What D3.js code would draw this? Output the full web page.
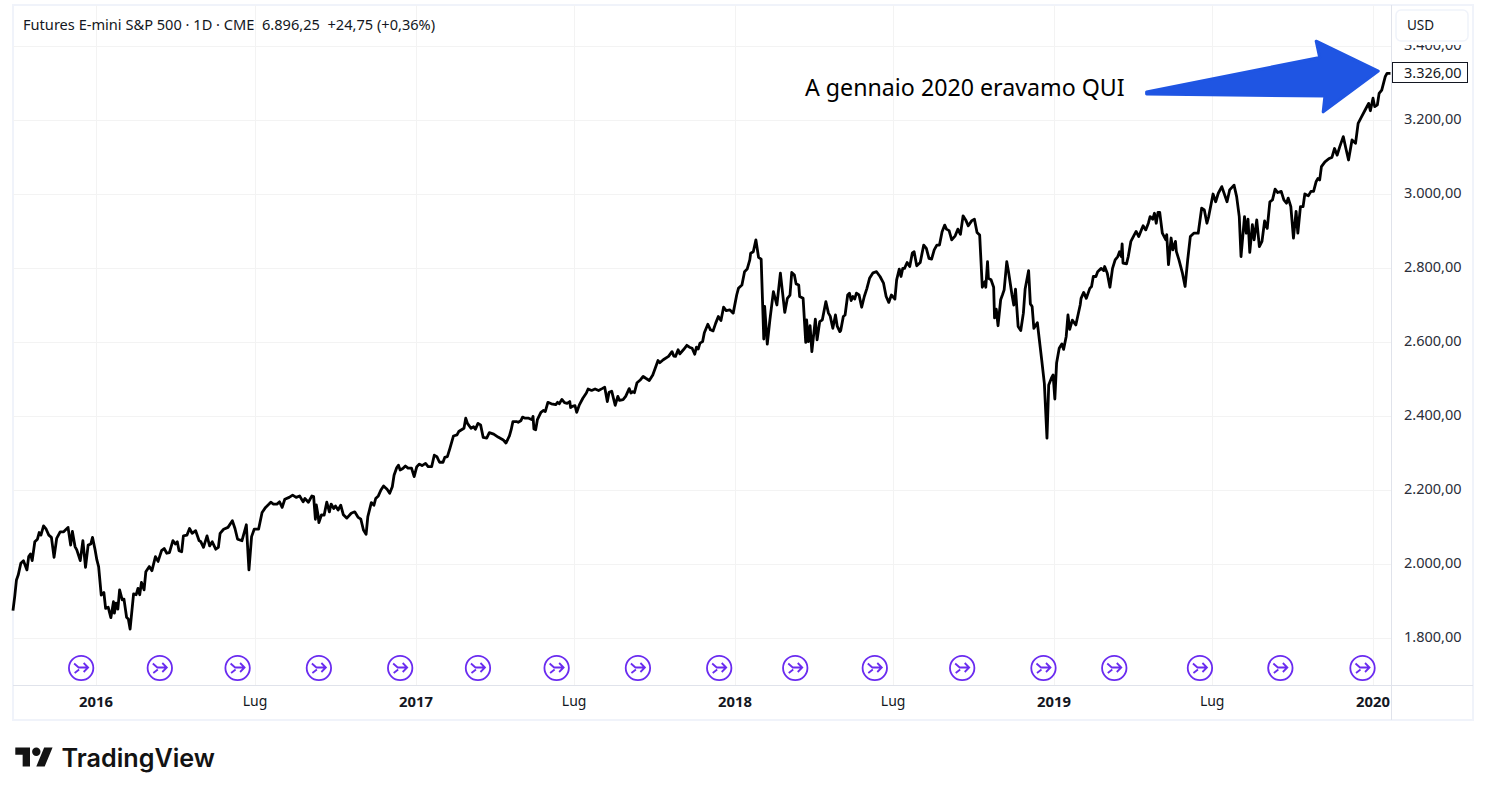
<!DOCTYPE html>
<html lang="it">
<head>
<meta charset="utf-8">
<title>Futures E-mini S&amp;P 500</title>
<script src="https://cdn.jsdelivr.net/npm/d3@7/dist/d3.min.js"></script>
<style>
    html, body { margin: 0; padding: 0; background: #fff; }
    svg { display: block; font-family: "Noto Sans", sans-serif; }
</style>
</head>
<body>
<script>
// days counted from 1 Jan 2016
var closeDays = [-95,-93,-91,-89,-86,-83,-79,-77,-75,-73,-70,-67,-65,-63,-60,-57,-54,-51,-48,-45,-41,-37,-32,-29,-27,-24,-22,-18,-15,-12,-9,-6,-4,-1,1,3,6,9,11,14,17,20,21,23,25,27,30,32,35,37,39,43,46,48,50,52,55,57,61,64,68,71,75,78,81,84,88,91,93,95,98,100,104,107,110,114,118,120,123,127,130,133,137,140,142,146,151,156,159,162,167,172,175,178,181,186,190,194,198,
    200,203,207,210,213,216,221,225,229,233,237,239,243,247,249,251,252,254,255,258,261,264,267,269,272,274,277,280,283,287,292,296,300,303,306,309,311,315,318,320,323,326,329,333,336,339,341,344,346,348,351,354,357,361,364,367,370,373,377,380,384,387,390,393,397,399,402,405,409,413,415,421,423,425,429,432,434,437,440,443,447,450,
    455,460,466,469,473,475,477,481,483,486,488,491,495,499,500,501,503,505,509,512,514,517,521,526,528,530,533,536,539,542,543,545,548,550,553,557,561,563,567,571,575,579,582,585,587,590,594,597,599,603,606,610,612,614,616,619,623,626,629,633,637,643,645,649,655,659,661,663,666,668,672,676,679,682,685,687,689,691,694,696,700,703,706,709,712,715,718,721,725,729,733,735,739,742,745,748,
    749,752,755,758,761,764,765,768,771,775,779,783,788,791,794,796,799,801,804,805,809,812,813,815,817,819,823,825,828,831,835,838,840,843,846,848,851,852,855,857,860,862,864,866,868,870,873,876,879,882,885,889,893,897,901,904,907,910,914,916,919,921,923,925,928,931,934,936,939,943,947,950,953,956,959,962,965,968,971,973,976,979,983,986,989,992,995,998,1002,1005,1008,1011,1014,1017,1018,1020,1021,1024,1027,1028,1030,1032,1035,1037,1039,1042,1044,1048,1050,1052,1055,1058,1061,1063,1067,1069,1071,1073,1077,1082,1085,1088,1090,1093,1095,1097,1099,1102,1105,1107,1110,1112,1114,
    1117,1121,1126,1127,1130,1133,1137,1139,1141,1144,1146,1150,1153,1154,1157,1160,1163,1166,1169,1171,1173,1174,1175,1179,1181,1184,1188,1190,1193,1196,1198,1201,1204,1206,1209,1211,1213,1215,1217,1220,1224,1225,1227,1230,1232,1235,1236,1239,1243,1246,1249,1252,1256,1261,1265,1268,1271,1273,1278,1281,1284,1288,1294,1297,1302,1305,1308,1310,1314,1316,1318,1320,1323,1325,1328,1331,1334,1337,1340,1343,1346,1349,1352,1356,1359,1362,1364,1367,1370,1373,1375,1378,1381,1383,1387,1390,1393,1396,1398,1400,1402,1406,1411,1414,1417,1420,1423,1427,1430,1433,1437,1441,1444,1448,1452,1456,1458,1461,1463,1466,1468,1471,1475,1477,1481];
var closes = [1874,1912,1957,1970,2002,2009,1984,2020,2027,2009,2060,2067,2085,2078,2103,2094,2078,2072,2018,2069,2087,2087,2099,2051,2088,2047,2038,2009,2063,1991,2051,2054,2072,2038,2011,1993,1916,1923,1880,1883,1855,1898,1867,1894,1878,1930,1903,1905,1856,1851,1824,1919,1917,1934,1917,1950,1930,1979,1993,1982,2020,2007,2036,2042,2029,2031,2063,2054,2060,2036,2033,2076,2078,2096,2083,2090,2063,2060,2045,2076,2049,2060,2040,2045,2083,2094,2099,2117,2096,2067,2063,2106,1984,2074,2094,2094,2139,2153,2162,
    2167,2162,2162,2168,2153,2175,2180,2186,2180,2184,2168,2177,2167,2184,2182,2121,2160,2133,2112,2133,2132,2167,2141,2162,2150,2157,2146,2159,2133,2124,2137,2141,2126,2121,2092,2080,2128,2166,2159,2177,2184,2200,2211,2202,2191,2209,2240,2260,2267,2254,2258,2265,2259,2259,2236,2263,2270,2266,2272,2263,2263,2294,2290,2275,2275,2288,2290,2313,2346,2349,2358,2367,2394,2380,2367,2371,2364,2380,2376,2342,2340,2355,
    2351,2343,2335,2327,2346,2363,2385,2385,2383,2387,2397,2394,2394,2390,2399,2365,2363,2390,2410,2415,2412,2437,2433,2431,2437,2433,2445,2436,2434,2439,2423,2426,2428,2410,2430,2448,2462,2473,2469,2473,2469,2474,2478,2439,2464,2467,2429,2453,2442,2444,2453,2474,2462,2466,2463,2490,2498,2507,2502,2496,2511,2550,2544,2552,2561,2574,2562,2561,2579,2568,2579,2591,2586,2583,2567,2586,2581,2597,2601,2625,2648,2633,2630,2651,2669,2658,2694,2685,2687,2678,2727,2745,2754,2790,2797,2822,
    2840,2844,2876,2829,2824,2608,2696,2594,2660,2736,2700,2786,2680,2718,2727,2788,2781,2757,2754,2723,2718,2599,2660,2601,2644,2574,2662,2606,2655,2660,2709,2678,2670,2637,2673,2643,2628,2631,2669,2673,2727,2732,2712,2723,2716,2732,2727,2694,2723,2745,2772,2787,2790,2777,2759,2723,2707,2727,2716,2768,2797,2777,2799,2799,2815,2804,2841,2844,2806,2815,2862,2853,2826,2824,2849,2862,2862,2898,2916,2905,2901,2876,2887,2905,2891,2941,2930,2914,2928,2932,2896,2889,2748,2763,2748,2817,2772,2768,2748,2665,2689,2644,2714,2727,2741,2817,2790,2727,2700,2743,2642,2631,2678,2743,2793,2703,2696,2637,2652,2551,2488,2340,2484,2502,2511,2446,2543,2583,2595,2580,2615,2673,2634,
    2659,2646,2700,2718,2734,2718,2745,2750,2777,2777,2790,2799,2793,2804,2786,2748,2799,2822,2831,2844,2831,2865,2813,2811,2831,2872,2890,2899,2885,2903,2914,2903,2921,2939,2932,2948,2921,2950,2950,2894,2876,2890,2809,2881,2849,2872,2845,2822,2786,2750,2822,2885,2894,2894,2962,2957,2921,2939,3000,2979,3002,3020,2979,3011,3024,2993,2939,2831,2939,2894,2932,2842,2917,2876,2930,2858,2872,2927,2907,2979,2984,3013,3004,3007,2984,2975,2989,2966,2881,2953,2894,2966,2966,3000,2995,3007,3007,3034,3042,3038,3074,3087,3096,3099,3123,3105,3128,3155,3123,3092,3146,3137,3191,3209,3227,3245,3225,3259,3236,3241,3272,3281,3317,3326,3326];
// contract roll markers
var rollDays = [-17,73,162,255,348,437,527,620,713,800,891,991,1084,1165,1263,1355,1449];
var priceTicks = [1800,2000,2200,2400,2600,2800,3000,3200,3400];
var timeTicks = [new Date(2016,0,1),new Date(2016,6,1),new Date(2017,0,1),new Date(2017,6,1),new Date(2018,0,1),new Date(2018,6,1),new Date(2019,0,1),new Date(2019,6,1),new Date(2020,0,1)];
var timeLabels = ["2016","Lug","2017","Lug","2018","Lug","2019","Lug","2020"];
var lastPrice = 3326;
// annotation arrow in chart units
var arrowDays = [1202,1400,1396,1467,1404,1406,1202];
var arrowPrices = [3276,3369,3413,3332,3222,3265,3270];

var w = 1486, h = 795;
var left = 13, right = 1391, top_ = 5, bottom = 685;
var day0 = new Date(2016,0,1);

function toDate(d) { return d3.timeDay.offset(day0, d); }

var xScale = d3.scaleTime().domain([timeTicks[0], timeTicks[8]]).range([96, 1373]);
var yScale = d3.scaleLinear().domain([1800, 3400]).range([638, 46]);

var itFormat = d3.formatLocale({decimal: ",", thousands: ".", grouping: [3], currency: ["", ""]}).format(",.2f");

var svg = d3.select("body").append("svg").attr("width", w).attr("height", h);

// frame
svg.append("rect").attr("x", left).attr("y", top_).attr("width", 1460).attr("height", 715)
    .attr("fill", "#fff").attr("stroke", "#f0f3fa").attr("stroke-width", 2);

// grid
svg.append("g").selectAll("line").data(priceTicks).enter().append("line")
    .attr("x1", left).attr("x2", right)
    .attr("y1", function (d) { return Math.round(yScale(d)) + 0.5; })
    .attr("y2", function (d) { return Math.round(yScale(d)) + 0.5; })
    .attr("stroke", "#f3f3f3");
svg.append("g").selectAll("line").data(timeTicks).enter().append("line")
    .attr("y1", top_).attr("y2", bottom)
    .attr("x1", function (d) { return Math.round(xScale(d)) + 0.5; })
    .attr("x2", function (d) { return Math.round(xScale(d)) + 0.5; })
    .attr("stroke", "#f3f3f3");

// price axis
var yAxis = d3.axisRight(yScale).tickValues(priceTicks).tickFormat(itFormat).tickSize(0).tickPadding(13);
var yG = svg.append("g").attr("transform", "translate(" + right + ",-0.7)").call(yAxis);
yG.select(".domain").remove();
yG.selectAll("text").attr("font-family", "Noto Sans").attr("font-size", 14.5).attr("fill", "#2a2e39");

// time axis
var xAxis = d3.axisBottom(xScale).tickValues(timeTicks)
    .tickFormat(function (d, i) { return timeLabels[i]; }).tickSize(0).tickPadding(11);
var xG = svg.append("g").attr("transform", "translate(-0.5," + bottom + ")").call(xAxis);
xG.select(".domain").remove();
xG.selectAll("text").attr("font-family", "Noto Sans").attr("fill", "#131722")
    .attr("font-size", function (d, i) { return timeLabels[i] === "Lug" ? 14 : 14.8; })
    .attr("font-weight", function (d, i) { return timeLabels[i] === "Lug" ? 400 : 700; });

// axis borders
svg.append("line").attr("x1", left).attr("x2", 1473).attr("y1", bottom + 0.5).attr("y2", bottom + 0.5).attr("stroke", "#e0e3eb");
svg.append("line").attr("x1", right + 0.5).attr("x2", right + 0.5).attr("y1", top_).attr("y2", 720).attr("stroke", "#e0e3eb");

// price line
var line = d3.line()
    .x(function (d, i) { return xScale(toDate(d)); })
    .y(function (d, i) { return yScale(closes[i]); });
svg.append("path").attr("d", line(closeDays)).attr("fill", "none")
    .attr("stroke", "#000").attr("stroke-width", 2.8).attr("stroke-linejoin", "round");

// roll markers
var rolls = svg.append("g").selectAll("g").data(rollDays).enter().append("g")
    .attr("transform", function (d) { return "translate(" + xScale(toDate(d)) + ",668)"; });
rolls.append("circle").attr("r", 12.2).attr("fill", "#fff").attr("stroke", "#6a2bf0").attr("stroke-width", 1.8);
rolls.append("path").attr("d", "M-7,-4.5 L-2.5,-0.5 L7,-0.5 M2.5,-5 L7,-0.5 L2.5,4 M-6.5,5 L-2,1.5")
    .attr("fill", "none").attr("stroke", "#6a2bf0").attr("stroke-width", 1.8);

// last price label
svg.append("rect").attr("x", 1392.5).attr("y", Math.round(yScale(lastPrice)) - 10.5).attr("width", 75).attr("height", 20)
    .attr("fill", "#fff").attr("stroke", "#131722");
svg.append("text").attr("x", 1404).attr("y", yScale(lastPrice) + 4.5).attr("font-size", 14.5).attr("fill", "#131722")
    .text(itFormat(lastPrice));

// currency button, the toolbar hides the top of the 3.400 label
svg.append("rect").attr("x", 1392).attr("y", 6).attr("width", 80).attr("height", 39).attr("fill", "#fff");
svg.append("rect").attr("x", 1396).attr("y", 10).attr("width", 72).attr("height", 31).attr("rx", 5)
    .attr("fill", "#fff").attr("stroke", "#f0f3fa").attr("stroke-width", 1.5);
svg.append("text").attr("x", 1407).attr("y", 30).attr("font-size", 13.5).attr("fill", "#131722").text("USD");

// legend
svg.append("text").attr("x", 23).attr("y", 30).attr("font-size", 14.6).attr("fill", "#131722")
    .text("Futures E-mini S&P 500 · 1D · CME");
svg.append("text").attr("x", 262).attr("y", 30).attr("font-size", 14.6).attr("fill", "#131722")
    .attr("xml:space", "preserve").text("6.896,25  +24,75 (+0,36%)");

// annotation
svg.append("polygon")
    .attr("points", arrowDays.map(function (d, i) { return xScale(toDate(d)) + "," + yScale(arrowPrices[i]); }).join(" "))
    .attr("fill", "#1f55e3").attr("stroke", "#1f55e3").attr("stroke-width", 3).attr("stroke-linejoin", "round");
svg.append("text").attr("x", 805).attr("y", 96).attr("font-size", 23.2).attr("fill", "#000")
    .text("A gennaio 2020 eravamo QUI");

// logo
var logo = svg.append("g").attr("transform", "translate(15.3,743.3) scale(1.05)").attr("fill", "#131313");
logo.append("path").attr("d", "M14 22H7V11H0V4h14v18zM28 22h-8l7.5-18h8L28 22z");
logo.append("circle").attr("cx", 20).attr("cy", 8).attr("r", 4);
svg.append("text").attr("x", 61.5).attr("y", 766.5).attr("font-family", "Inter").attr("font-weight", 600)
    .attr("font-size", 25.2).attr("fill", "#131313").text("TradingView");
</script>
</body>
</html>
